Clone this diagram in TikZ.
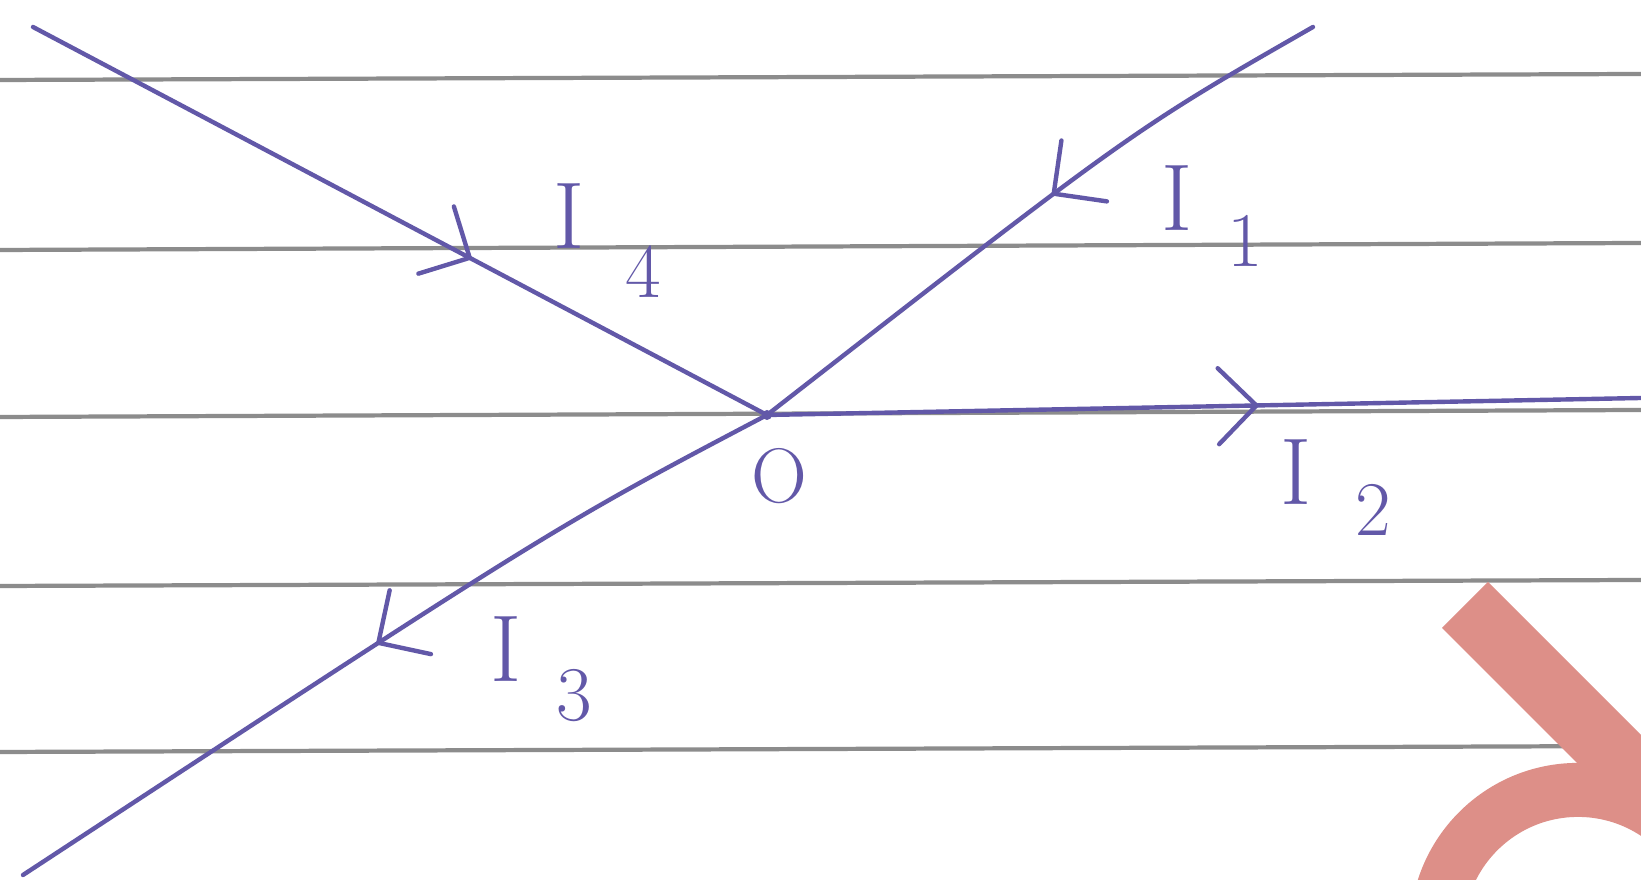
\documentclass[tikz,border=0pt]{standalone}
\usetikzlibrary{decorations.markings}
\definecolor{ink}{RGB}{98,88,168}
\definecolor{rulegray}{RGB}{140,140,140}
\definecolor{logo}{RGB}{221,143,136}
\tikzset{
  wire/.style={draw=ink, line width=1.25pt, line cap=round, line join=round},
  rulel/.style={draw=rulegray, line width=1.2pt},
  chev/.style={postaction={decorate}, decoration={markings, mark=at position #1 with {\draw[ink, line width=1.25pt, line cap=round, line join=round] (-38,38) -- (0,0) -- (-38,-38);}}},
  lab/.style={text=ink, font=\fontsize{27}{30}\selectfont, inner sep=0pt},
  sublab/.style={text=ink, font=\fontsize{22}{24}\selectfont, inner sep=0pt},
}
\begin{document}
\begin{tikzpicture}[x=0.01cm,y=-0.01cm]
\useasboundingbox (0,0) rectangle (1641,880);
\fill[white] (0,0) rectangle (1641,880);
\begin{scope}
  \clip (0,0) rectangle (1641,880);
  % ruled paper lines
  \draw[rulel] (0,80) -- (1641,74);
  \draw[rulel] (0,250) -- (1641,243);
  \draw[rulel] (0,417) -- (1641,410);
  \draw[rulel] (0,586) -- (1641,580);
  \draw[rulel] (0,752) -- (1641,746);
  % logo shape
  \draw[logo, line width=0.54cm] (1578,931) circle[radius=1.41cm];
  \draw[logo, line width=0.65cm] (1465,605) -- (1720,860);
\end{scope}
% junction and wire ends
\coordinate (O) at (767,415);
\coordinate (e1) at (1313,27);
\coordinate (c1) at (1133,130);
\coordinate (e2) at (1641,398);
\coordinate (e3) at (23,875);
\coordinate (c3) at (554,527);
\coordinate (e4) at (33,27);
% wires with current arrows
\draw[wire, chev=0.595] (e4) -- (O);
\draw[wire, chev=0.46] (e1) .. controls (c1) .. (O);
\draw[wire, chev=0.56] (O) -- (e2);
\draw[wire, chev=0.515] (O) .. controls (c3) .. (e3);
\fill[ink] (O) circle[radius=0.05cm];
% labels
\node[lab] (I1) at (1177,198) {I};
\node[sublab] (s1) at (1245,241) {1};
\node[lab] (I2) at (1296,472) {I};
\node[sublab] (s2) at (1373,510) {2};
\node[lab] (I3) at (506,649) {I};
\node[sublab] (s3) at (574,696) {3};
\node[lab] (I4) at (569,216) {I};
\node[sublab] (s4) at (643,272) {4};
\node[sublab] (Olab) at (779,476) {O};
\end{tikzpicture}
\end{document}
